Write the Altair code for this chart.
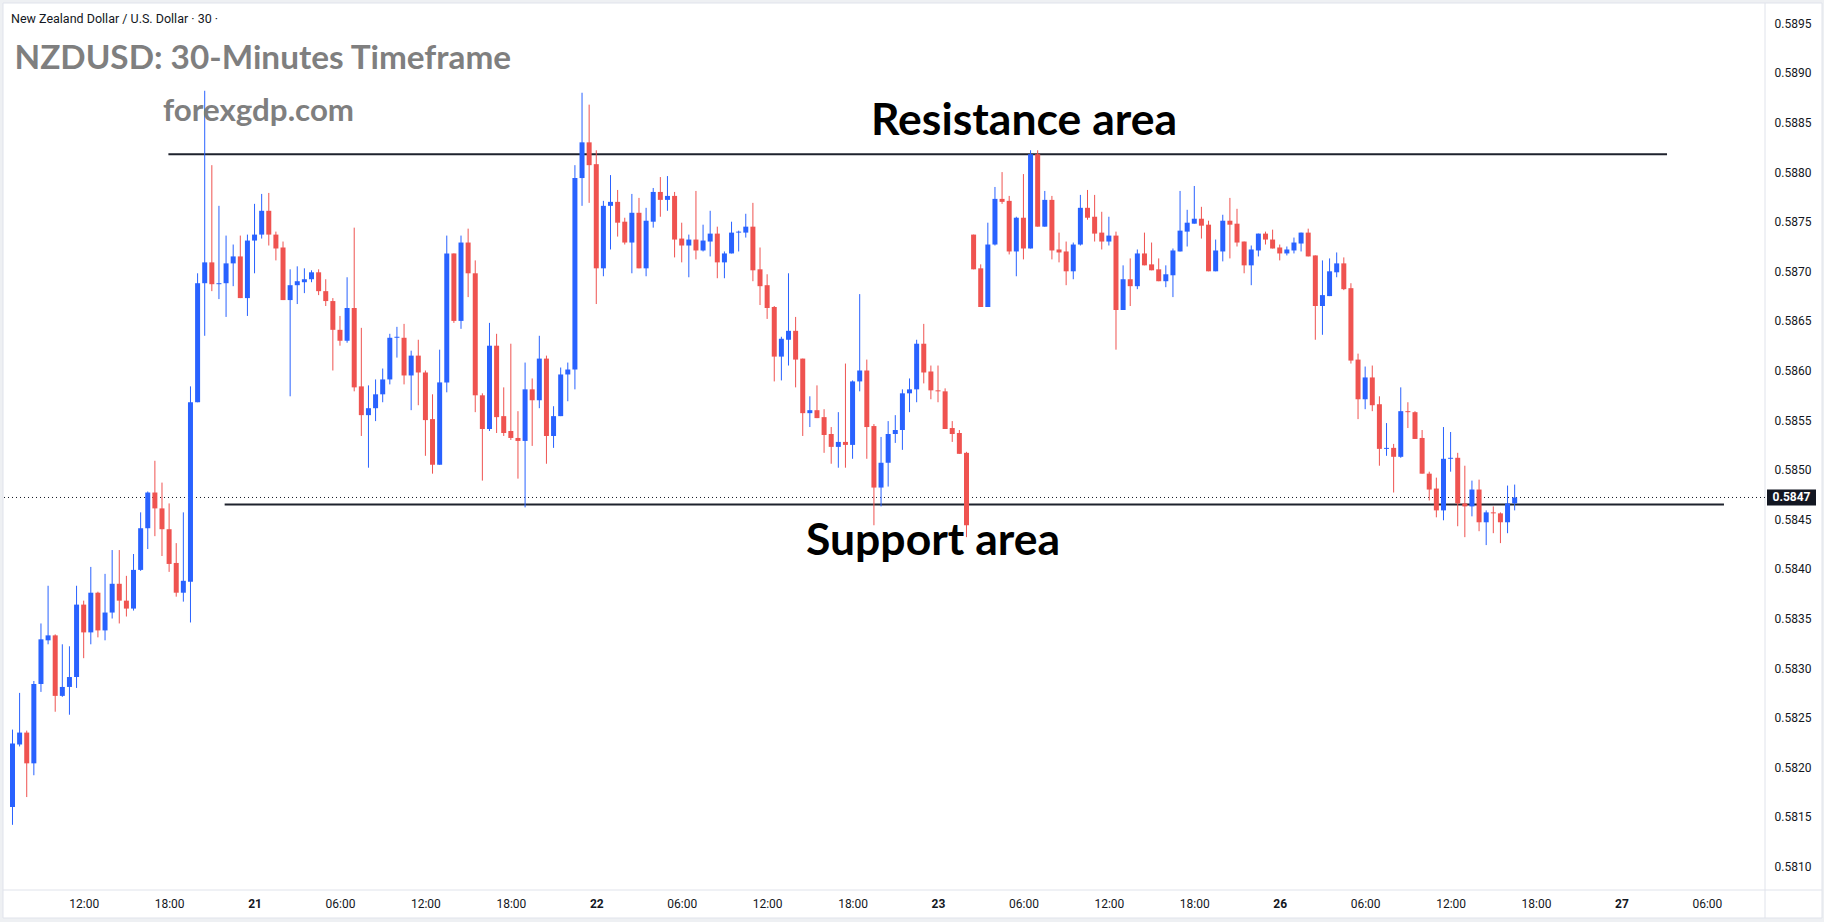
import altair as alt
import pandas as pd

# ---- candle data (30-minute bars) ----
opens = [0.58160,0.58223,0.58235,0.58204,0.58284,0.58328,0.58333,0.58272,0.58281,0.58291,
0.58364,0.58336,0.58376,0.58338,0.58356,0.58385,0.58368,0.58360,0.58399,0.58441,
0.58477,0.58461,0.58440,0.58406,0.58376,0.58387,0.58568,0.58688,0.58709,0.58687,
0.58688,0.58708,0.58715,0.58673,0.58731,0.58737,0.58761,0.58737,0.58724,0.58671,
0.58686,0.58689,0.58692,0.58699,0.58680,0.58670,0.58641,0.58630,0.58663,0.58584,
0.58555,0.58562,0.58576,0.58591,0.58633,0.58633,0.58595,0.58615,0.58598,0.58551,
0.58505,0.58588,0.58718,0.58650,0.58729,0.58698,0.58575,0.58541,0.58625,0.58554,
0.58539,0.58532,0.58529,0.58581,0.58570,0.58612,0.58534,0.58554,0.58596,0.58601,
0.58794,0.58830,0.58808,0.58703,0.58766,0.58770,0.58750,0.58729,0.58759,0.58703,
0.58750,0.58780,0.58772,0.58776,0.58733,0.58726,0.58732,0.58721,0.58730,0.58738,
0.58709,0.58718,0.58739,0.58739,0.58745,0.58702,0.58686,0.58664,0.58614,0.58631,
0.58640,0.58612,0.58557,0.58560,0.58553,0.58536,0.58523,0.58528,0.58525,0.58589,
0.58600,0.58544,0.58482,0.58507,0.58536,0.58540,0.58577,0.58581,0.58627,0.58599,
0.58580,0.58579,0.58542,0.58537,0.58517,0.58737,0.58703,0.58664,0.58727,0.58773,
0.58771,0.58720,0.58754,0.58723,0.58818,0.58745,0.58772,0.58722,0.58720,0.58700,
0.58727,0.58764,0.58755,0.58739,0.58730,0.58736,0.58661,0.58692,0.58685,0.58718,
0.58707,0.58702,0.58690,0.58696,0.58720,0.58740,0.58748,0.58753,0.58747,0.58700,
0.58720,0.58751,0.58748,0.58730,0.58706,0.58721,0.58738,0.58732,0.58724,0.58718,
0.58721,0.58728,0.58739,0.58716,0.58665,0.58675,0.58699,0.58708,0.58683,0.58611,
0.58571,0.58593,0.58566,0.58521,0.58522,0.58513,0.58559,0.58558,0.58532,0.58496,
0.58481,0.58459,0.58511,0.58512,0.58466,0.58463,0.58480,0.58447,0.58457,0.58456,
0.58447,0.58466]
highs = [0.58238,0.58275,0.58237,0.58287,0.58345,0.58383,0.58334,0.58324,0.58322,0.58383,
0.58368,0.58402,0.58377,0.58395,0.58419,0.58419,0.58393,0.58415,0.58457,0.58478,
0.58509,0.58487,0.58466,0.58426,0.58457,0.58584,0.58698,0.58882,0.58807,0.58766,
0.58736,0.58727,0.58736,0.58737,0.58768,0.58778,0.58779,0.58740,0.58730,0.58702,
0.58705,0.58703,0.58701,0.58702,0.58692,0.58673,0.58655,0.58694,0.58744,0.58643,
0.58585,0.58591,0.58602,0.58637,0.58644,0.58647,0.58620,0.58631,0.58600,0.58576,
0.58621,0.58736,0.58718,0.58736,0.58743,0.58711,0.58577,0.58648,0.58637,0.58583,
0.58627,0.58559,0.58608,0.58592,0.58635,0.58615,0.58564,0.58603,0.58608,0.58807,
0.58880,0.58868,0.58822,0.58771,0.58797,0.58782,0.58754,0.58778,0.58774,0.58764,
0.58784,0.58795,0.58796,0.58780,0.58749,0.58737,0.58781,0.58747,0.58761,0.58745,
0.58720,0.58750,0.58741,0.58758,0.58769,0.58724,0.58697,0.58665,0.58634,0.58698,
0.58654,0.58612,0.58574,0.58585,0.58561,0.58543,0.58558,0.58607,0.58590,0.58677,
0.58611,0.58546,0.58533,0.58549,0.58555,0.58581,0.58592,0.58631,0.58647,0.58605,
0.58605,0.58582,0.58549,0.58540,0.58518,0.58737,0.58707,0.58749,0.58785,0.58800,
0.58776,0.58755,0.58798,0.58822,0.58822,0.58781,0.58776,0.58739,0.58730,0.58729,
0.58777,0.58782,0.58777,0.58760,0.58755,0.58740,0.58706,0.58713,0.58722,0.58739,
0.58729,0.58713,0.58706,0.58723,0.58781,0.58762,0.58786,0.58765,0.58751,0.58732,
0.58757,0.58774,0.58763,0.58730,0.58726,0.58738,0.58740,0.58742,0.58727,0.58725,
0.58734,0.58739,0.58743,0.58716,0.58711,0.58713,0.58719,0.58714,0.58688,0.58617,
0.58604,0.58605,0.58574,0.58547,0.58526,0.58583,0.58568,0.58559,0.58540,0.58498,
0.58492,0.58543,0.58538,0.58517,0.58504,0.58489,0.58490,0.58459,0.58463,0.58457,
0.58484,0.58485]
lows = [0.58142,0.58221,0.58170,0.58192,0.58276,0.58324,0.58256,0.58271,0.58253,0.58280,
0.58310,0.58324,0.58331,0.58328,0.58350,0.58345,0.58352,0.58358,0.58398,0.58420,
0.58433,0.58413,0.58397,0.58372,0.58367,0.58346,0.58568,0.58635,0.58680,0.58672,
0.58654,0.58685,0.58673,0.58655,0.58698,0.58733,0.58726,0.58711,0.58671,0.58574,
0.58667,0.58678,0.58689,0.58676,0.58665,0.58600,0.58625,0.58628,0.58579,0.58534,
0.58502,0.58549,0.58568,0.58586,0.58613,0.58586,0.58560,0.58565,0.58514,0.58496,
0.58505,0.58578,0.58648,0.58642,0.58674,0.58558,0.58489,0.58539,0.58537,0.58534,
0.58530,0.58491,0.58462,0.58524,0.58562,0.58506,0.58522,0.58554,0.58569,0.58581,
0.58766,0.58769,0.58667,0.58695,0.58722,0.58735,0.58727,0.58698,0.58703,0.58695,
0.58744,0.58755,0.58761,0.58714,0.58709,0.58694,0.58712,0.58720,0.58715,0.58693,
0.58693,0.58718,0.58720,0.58734,0.58690,0.58666,0.58652,0.58589,0.58590,0.58605,
0.58583,0.58534,0.58543,0.58552,0.58517,0.58506,0.58502,0.58502,0.58511,0.58579,
0.58511,0.58444,0.58463,0.58483,0.58527,0.58520,0.58558,0.58568,0.58587,0.58571,
0.58568,0.58541,0.58528,0.58516,0.58432,0.58702,0.58664,0.58664,0.58726,0.58768,
0.58717,0.58695,0.58712,0.58723,0.58745,0.58745,0.58712,0.58709,0.58686,0.58692,
0.58726,0.58752,0.58730,0.58722,0.58726,0.58621,0.58661,0.58665,0.58682,0.58706,
0.58701,0.58690,0.58684,0.58674,0.58720,0.58725,0.58748,0.58733,0.58700,0.58700,
0.58710,0.58713,0.58725,0.58698,0.58686,0.58715,0.58727,0.58723,0.58711,0.58716,
0.58718,0.58720,0.58715,0.58631,0.58636,0.58675,0.58694,0.58681,0.58607,0.58551,
0.58561,0.58559,0.58504,0.58514,0.58477,0.58512,0.58542,0.58531,0.58496,0.58469,
0.58452,0.58449,0.58498,0.58443,0.58432,0.58453,0.58438,0.58424,0.58436,0.58426,
0.58436,0.58459]
closes = [0.58224,0.58235,0.58204,0.58284,0.58329,0.58333,0.58272,0.58281,0.58291,0.58364,
0.58336,0.58376,0.58338,0.58356,0.58385,0.58368,0.58360,0.58399,0.58441,0.58477,
0.58461,0.58440,0.58405,0.58376,0.58388,0.58568,0.58688,0.58709,0.58687,0.58688,
0.58708,0.58715,0.58673,0.58731,0.58737,0.58761,0.58737,0.58723,0.58671,0.58686,
0.58690,0.58692,0.58699,0.58680,0.58670,0.58641,0.58630,0.58663,0.58583,0.58555,
0.58562,0.58576,0.58591,0.58633,0.58634,0.58595,0.58615,0.58598,0.58550,0.58505,
0.58588,0.58718,0.58650,0.58729,0.58698,0.58575,0.58541,0.58625,0.58553,0.58537,
0.58532,0.58529,0.58581,0.58570,0.58612,0.58534,0.58554,0.58596,0.58601,0.58794,
0.58830,0.58807,0.58703,0.58766,0.58770,0.58749,0.58729,0.58759,0.58703,0.58751,
0.58780,0.58772,0.58776,0.58732,0.58726,0.58732,0.58721,0.58731,0.58738,0.58709,
0.58718,0.58739,0.58740,0.58745,0.58701,0.58685,0.58663,0.58614,0.58632,0.58640,
0.58611,0.58557,0.58560,0.58552,0.58535,0.58523,0.58528,0.58525,0.58589,0.58600,
0.58543,0.58482,0.58507,0.58536,0.58540,0.58577,0.58581,0.58627,0.58598,0.58580,
0.58579,0.58541,0.58536,0.58516,0.58444,0.58702,0.58664,0.58727,0.58773,0.58770,
0.58720,0.58754,0.58723,0.58818,0.58745,0.58772,0.58721,0.58719,0.58700,0.58727,
0.58764,0.58754,0.58738,0.58730,0.58736,0.58661,0.58692,0.58685,0.58718,0.58706,
0.58701,0.58690,0.58697,0.58721,0.58741,0.58749,0.58753,0.58746,0.58700,0.58721,
0.58751,0.58747,0.58729,0.58706,0.58722,0.58738,0.58732,0.58723,0.58718,0.58722,
0.58729,0.58739,0.58715,0.58665,0.58676,0.58700,0.58708,0.58682,0.58610,0.58571,
0.58593,0.58565,0.58521,0.58522,0.58513,0.58559,0.58558,0.58531,0.58496,0.58480,
0.58459,0.58511,0.58512,0.58466,0.58463,0.58480,0.58447,0.58457,0.58456,0.58447,
0.58466,0.58472]

# ---- axis ticks ----
tick_bars = [10, 22, 34, 46, 58, 70, 82, 94, 106, 118, 130, 142, 154, 166, 178, 190, 202, 214, 226, 238]
tick_labels = ["12:00", "18:00", "21", "06:00", "12:00", "18:00", "22", "06:00", "12:00", "18:00",
               "23", "06:00", "12:00", "18:00", "26", "06:00", "12:00", "18:00", "27", "06:00"]
day_bars = [34, 82, 130, 178, 226]
price_ticks = [0.5810, 0.5815, 0.5820, 0.5825, 0.5830, 0.5835, 0.5840, 0.5845, 0.5850,
               0.5855, 0.5860, 0.5865, 0.5870, 0.5875, 0.5880, 0.5885, 0.5890, 0.5895]

# ---- drawn levels (bar-index start/end, price) ----
level_names = ["Resistance", "Support"]
level_start = [21.9, 29.8]
level_end = [232.4, 240.4]
level_price = [0.58818, 0.58465]

header_text = "New Zealand Dollar / U.S. Dollar · 30 ·"
title_text = "NZDUSD: 30-Minutes Timeframe"
site_text = "forexgdp.com"
res_text = "Resistance area"
sup_text = "Support area"

BLUE = "#2962FF"
RED = "#EF5350"
INK = "#131722"
GRAY = "#7f7f7f"
LINE = "#e0e3eb"

W, H = 1761, 886

df = pd.DataFrame({"i": list(range(len(opens))), "o": opens, "h": highs, "l": lows, "c": closes})
last = df.tail(1)
levels = pd.DataFrame({"name": level_names, "x": level_start, "x2": level_end, "p": level_price})
one = pd.DataFrame({"k": [0]})

xs = alt.Scale(domain=[-0.49, 245.46], nice=False, zero=False)
ys = alt.Scale(domain=[0.5807631, 0.5896946], nice=False, zero=False)

color = alt.condition("datum.c >= datum.o", alt.value(BLUE), alt.value(RED))

label_expr = "[" + ",".join("'%s'" % t for t in tick_labels) + "][indexof([" + \
    ",".join(str(b) for b in tick_bars) + "], datum.value)]"
day_test = "indexof([" + ",".join(str(b) for b in day_bars) + "], datum.value) >= 0"

x_axis = alt.Axis(values=tick_bars, labelExpr=label_expr, title=None, grid=False, ticks=False,
                  domain=False, labelFont="Roboto", labelFontSize=12, labelColor=INK,
                  labelPadding=8, labelOverlap=False, zindex=2,
                  labelFontWeight={"condition": {"test": day_test, "value": "bold"}, "value": "normal"})
y_axis = alt.Axis(orient="right", values=price_ticks, format=".4f", title=None, grid=False,
                  ticks=False, domain=False, labelFont="Roboto", labelFontSize=12,
                  labelColor=INK, labelPadding=9, labelAlign="left", labelBaseline="middle",
                  labelOverlap=False, labelBound=False, labelFlush=False, zindex=2)

frame = alt.Chart(one).mark_rect(fill="white", stroke=LINE, strokeWidth=1).encode(
    x=alt.value(-1), x2=alt.value(W + 57), y=alt.value(-1), y2=alt.value(H + 28))
vsep = alt.Chart(one).mark_rule(color=LINE, strokeWidth=1).encode(
    x=alt.value(W), y=alt.value(-1), y2=alt.value(H + 28))
hsep = alt.Chart(one).mark_rule(color=LINE, strokeWidth=1).encode(
    x=alt.value(-1), x2=alt.value(W + 57), y=alt.value(H))

dotted = alt.Chart(last).mark_rule(color=INK, strokeWidth=1, strokeDash=[1, 3]).encode(
    x=alt.value(0), x2=alt.value(W), y=alt.Y("c:Q", scale=ys, axis=y_axis))

lvl = alt.Chart(levels).mark_rule(color="#1e222d", strokeWidth=2).encode(
    x=alt.X("x:Q", scale=xs, axis=x_axis), x2="x2:Q", y=alt.Y("p:Q", scale=ys, axis=y_axis))

wicks = alt.Chart(df).mark_rule(strokeWidth=1).encode(
    x=alt.X("i:Q", scale=xs, axis=x_axis), y=alt.Y("l:Q", scale=ys, axis=y_axis), y2="h:Q", color=color)

bodies = alt.Chart(df).mark_bar(size=5).encode(
    x=alt.X("i:Q", scale=xs, axis=x_axis), y=alt.Y("o:Q", scale=ys, axis=y_axis), y2="c:Q", color=color)

def txt(s, x, y, size, colr, weight="bold", font="Lato", align="left"):
    return alt.Chart(pd.DataFrame({"t": [s]})).mark_text(
        font=font, fontSize=size, fontWeight=weight, color=colr, align=align, baseline="alphabetic"
    ).encode(x=alt.value(x), y=alt.value(y), text="t:N")

header = txt(header_text, 7, 19, 12.5, INK, weight="normal", font="Roboto")
title = txt(title_text, 10.5, 65, 33.3, GRAY)
site = txt(site_text, 159, 117, 31.3, GRAY)
res = txt(res_text, 1020, 131, 44.5, "#000000", align="center")
sup = txt(sup_text, 929, 551, 44.5, "#000000", align="center")

tag_shape = "M-1,-0.33L1,-0.33L1,0.33L-1,0.33Z"
tag = alt.Chart(last).mark_point(shape=tag_shape, size=2401, filled=True, opacity=1,
                                 color=INK, strokeWidth=0).encode(
    x=alt.value(W + 26.5), y=alt.Y("c:Q", scale=ys, axis=y_axis))
tag_txt = alt.Chart(last).mark_text(font="Roboto", fontSize=12, fontWeight="bold", color="white",
                                    align="center", baseline="middle").encode(
    x=alt.value(W + 26.5), y=alt.Y("c:Q", scale=ys, axis=y_axis), text=alt.Text("c:Q", format=".4f"))

chart = alt.layer(frame, vsep, hsep, dotted, lvl, wicks, bodies, header, title, site, res, sup,
                  tag, tag_txt).properties(
    width=W, height=H,
    padding={"left": 4, "top": 4, "right": 59, "bottom": 32},
    autosize=alt.AutoSizeParams(type="none"),
).configure(background="#eef0f3").configure_view(stroke=None)

chart.save("out.html", embed_options={"renderer": "svg", "actions": False})
